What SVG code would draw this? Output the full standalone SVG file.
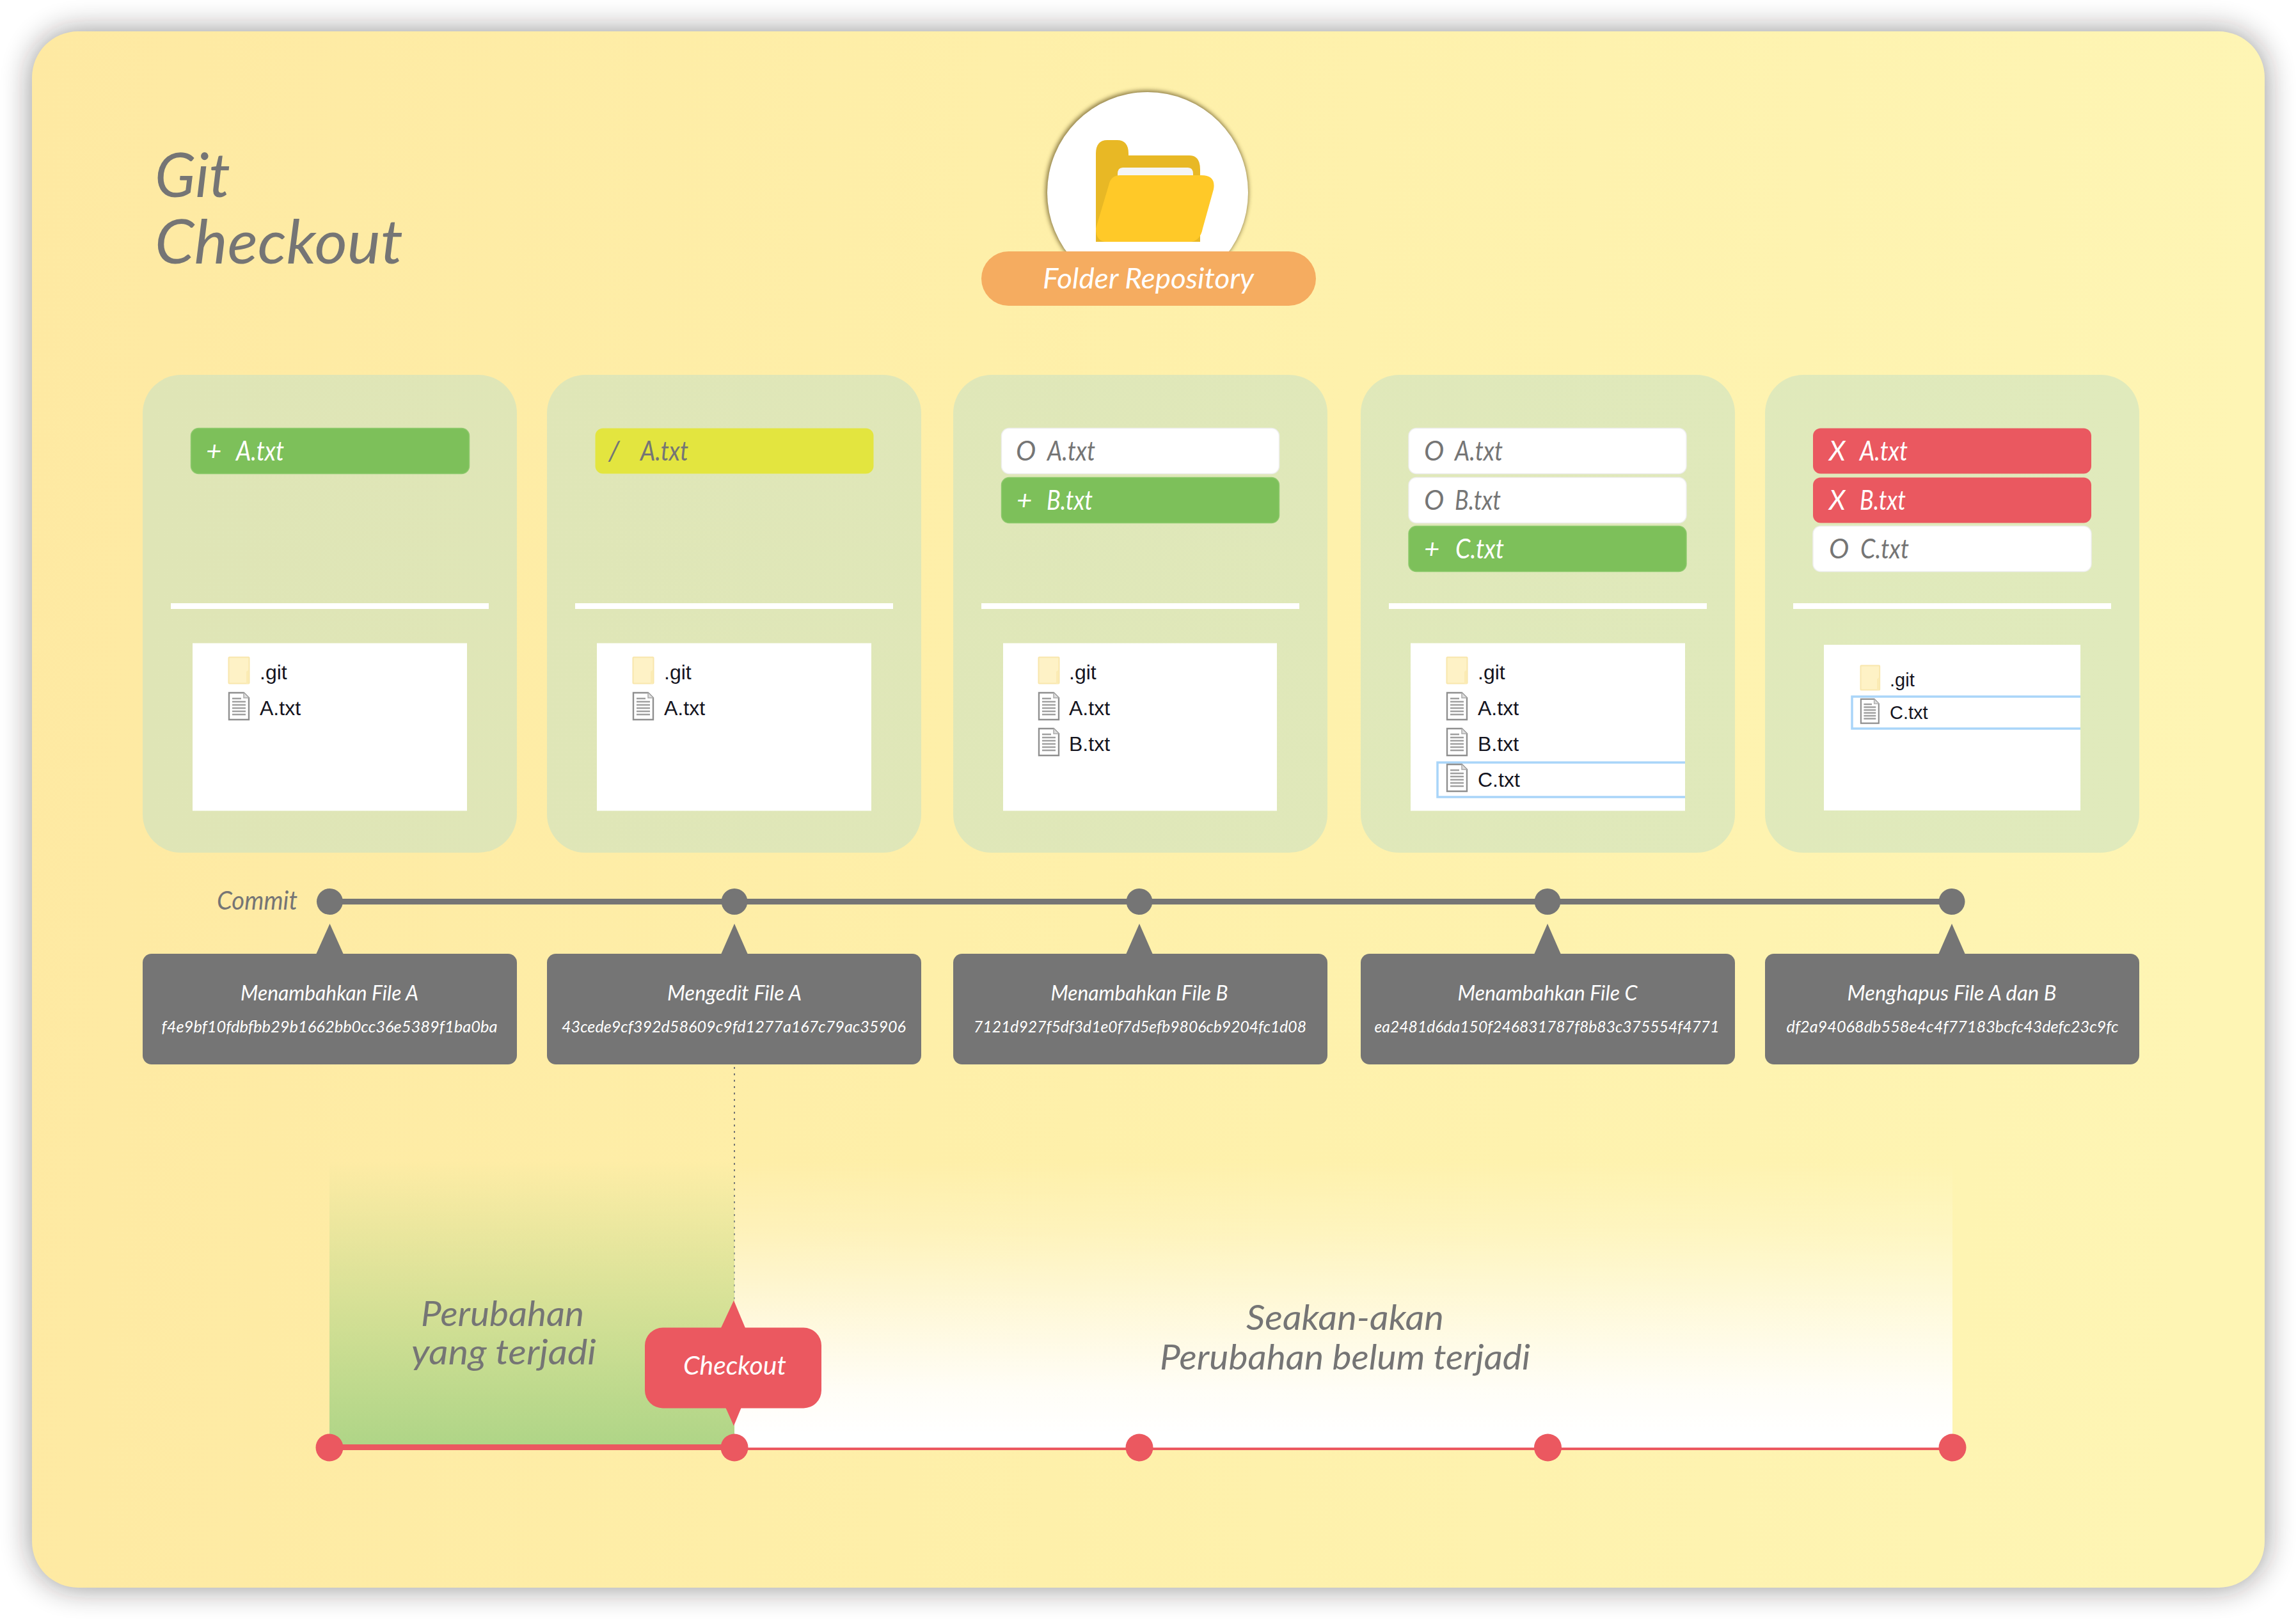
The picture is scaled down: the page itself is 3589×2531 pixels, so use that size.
<svg xmlns="http://www.w3.org/2000/svg" xmlns:xlink="http://www.w3.org/1999/xlink" width="3589" height="2531" viewBox="0 0 3589 2531">
<style>
text{font-family:"Lato","Liberation Sans",sans-serif;font-style:italic}
.g{fill:#757575}
.w{fill:#fff}
.card{fill:url(#cardFill)}
.panel{fill:#fff}
.div{fill:#fff}
.bar{stroke-width:1.5}
.add{fill:#7DC05A;stroke:#8dc96c}
.edit{fill:#E3E53F}
.keep{fill:#fff;stroke:#eee}
.del{fill:#EA5860}
.bt{font-size:42px}
.ft{font-family:"Liberation Sans",sans-serif;font-style:normal;font-size:32px;fill:#14141e}
.ct{font-size:32px;fill:#fff;text-anchor:middle}
.ch{font-size:25px;fill:#fff;text-anchor:middle}
.box{fill:#757575}
.sel{fill:none;stroke:#a9d5f9;stroke-width:3.5}
.dot{fill:#757575}
.rdot{fill:#EB5860}
</style>
<defs>
<linearGradient id="bgFill" x1="0" x2="1" y1="0" y2=".05"><stop offset="0" stop-color="#FEE9A2"/><stop offset=".5" stop-color="#FEF0AA"/><stop offset="1" stop-color="#FEF5B4"/></linearGradient>
<linearGradient id="cardFill" gradientUnits="userSpaceOnUse" x1="223" x2="3344" y1="0" y2="0"><stop offset="0" stop-color="#DFE5B6"/><stop offset="1" stop-color="#E0EABC"/></linearGradient>
<linearGradient id="greenFade" x1="0" x2="0" y1="0" y2="1"><stop offset="0" stop-color="#AFD587" stop-opacity="0"/><stop offset="1" stop-color="#AFD587"/></linearGradient>
<linearGradient id="whiteFade" x1="0" x2="0" y1="0" y2="1"><stop offset="0" stop-color="#fff" stop-opacity="0"/><stop offset=".25" stop-color="#fff" stop-opacity=".22"/><stop offset=".55" stop-color="#fff" stop-opacity=".6"/><stop offset=".8" stop-color="#fff" stop-opacity=".9"/><stop offset=".95" stop-color="#fff"/></linearGradient>
<filter id="pageShadow" x="-5%" y="-5%" width="110%" height="110%"><feGaussianBlur stdDeviation="24"/></filter>
<filter id="circleShadow" x="-10%" y="-10%" width="120%" height="120%"><feGaussianBlur stdDeviation="3"/></filter>
<g id="folderIco"><rect x="0.5" y="0.5" width="32" height="41" rx="1" fill="#FEF2C6" stroke="#F8E6AC" stroke-width="2"/><path d="M28 42V23l4-3v22z" fill="#FBEBB4"/></g>
<g id="docIco"><path d="M1 1H24L32 9V43H1z" fill="#fff" stroke="#8f8f8f" stroke-width="2.4"/><path d="M24 1V9H32" fill="#ddd" stroke="#aaa" stroke-width="1.5"/><path d="M6 10H20M6 15H27M6 20H27M6 25H27M6 30H27M6 35H27" stroke="#a0a0a0" stroke-width="2.6" fill="none"/></g>
</defs>

<g id="page">
<rect x="50" y="49" width="3490" height="2433" rx="72" fill="#1a1414" opacity=".47" filter="url(#pageShadow)"/>
<rect x="50" y="49" width="3490" height="2433" rx="72" fill="url(#bgFill)"/>
</g>

<g id="title"><text class="g" x="242" y="308" font-size="96" textLength="118" lengthAdjust="spacingAndGlyphs">Git</text><text class="g" x="242" y="412" font-size="96" textLength="388" lengthAdjust="spacingAndGlyphs">Checkout</text></g>

<g id="folder-repository">
<circle cx="1793" cy="300" r="159" fill="#6e5d2a" opacity=".75" filter="url(#circleShadow)"/>
<circle cx="1794" cy="301" r="157" fill="#fff"/>
<path d="M1713 378V240Q1713 219 1731 219H1746Q1764 219 1764 240V243H1859Q1876 243 1876 265V378z" fill="#E8B825"/>
<path d="M1747 292V272Q1747 262 1755 262H1857Q1865 262 1865 272V292z" fill="#F5F5F5"/>
<path d="M1751 274H1878Q1901 274 1897 296L1880 357Q1876 378 1859 378H1730Q1713 378 1713 357L1733 290Q1736 274 1751 274z" fill="#FFC928"/>
<rect x="1534" y="393" width="523" height="85" rx="42.5" fill="#F5AC60"/>
<text class="w" x="1630" y="451" font-size="44" textLength="330" lengthAdjust="spacingAndGlyphs">Folder Repository</text>
</g>

<g id="connectors">
<rect x="515" y="1405" width="2536" height="9" class="g"/>
<rect x="515" y="2258" width="633" height="9" class="rdot"/>
<rect x="1148" y="2263" width="1904" height="4" class="rdot"/>
<line x1="1148" y1="1668" x2="1148" y2="2034" stroke="#757575" stroke-width="2" stroke-dasharray="3 7"/>
</g>

<g id="commit-label"><text class="g" x="339" y="1422" font-size="40" textLength="126" lengthAdjust="spacingAndGlyphs">Commit</text></g>

<g id="card-1">
<rect class="card" x="223" y="586" width="585" height="747" rx="60"/>
<rect class="bar add" x="298.5" y="669.5" width="435" height="71" rx="12"/>
<text class="bt w" x="322" y="720">+</text><text class="bt w" x="369" y="720" textLength="75" lengthAdjust="spacingAndGlyphs">A.txt</text>
<rect class="div" x="267" y="943" width="497" height="9"/>
<rect class="panel" x="301" y="1005.5" width="429" height="262"/>
<use xlink:href="#folderIco" href="#folderIco" x="357" y="1027"/><text class="ft" x="406" y="1062">.git</text>
<use xlink:href="#docIco" href="#docIco" x="357" y="1082"/><text class="ft" x="406" y="1118">A.txt</text>
</g>

<g id="card-2">
<rect class="card" x="855" y="586" width="585" height="747" rx="60"/>
<rect class="bar edit" x="930.5" y="669.5" width="435" height="71" rx="12"/>
<text class="bt g" x="951" y="720">/</text><text class="bt g" x="1001" y="720" textLength="75" lengthAdjust="spacingAndGlyphs">A.txt</text>
<rect class="div" x="899" y="943" width="497" height="9"/>
<rect class="panel" x="933" y="1005.5" width="429" height="262"/>
<use xlink:href="#folderIco" href="#folderIco" x="989" y="1027"/><text class="ft" x="1038" y="1062">.git</text>
<use xlink:href="#docIco" href="#docIco" x="989" y="1082"/><text class="ft" x="1038" y="1118">A.txt</text>
</g>

<g id="card-3">
<rect class="card" x="1490" y="586" width="585" height="747" rx="60"/>
<rect class="bar keep" x="1565.5" y="669.5" width="434" height="71" rx="12"/>
<text class="bt g" x="1588" y="720">O</text><text class="bt g" x="1637" y="720" textLength="75" lengthAdjust="spacingAndGlyphs">A.txt</text>
<rect class="bar add" x="1565.5" y="746.5" width="434" height="71" rx="12"/>
<text class="bt w" x="1589" y="797">+</text><text class="bt w" x="1636" y="797" textLength="72" lengthAdjust="spacingAndGlyphs">B.txt</text>
<rect class="div" x="1534" y="943" width="497" height="9"/>
<rect class="panel" x="1568" y="1005.5" width="428" height="262"/>
<use xlink:href="#folderIco" href="#folderIco" x="1623" y="1027"/><text class="ft" x="1671" y="1062">.git</text>
<use xlink:href="#docIco" href="#docIco" x="1623" y="1082"/><text class="ft" x="1671" y="1118">A.txt</text>
<use xlink:href="#docIco" href="#docIco" x="1623" y="1138"/><text class="ft" x="1671" y="1174">B.txt</text>
</g>

<g id="card-4">
<rect class="card" x="2127" y="586" width="585" height="747" rx="60"/>
<rect class="bar keep" x="2202" y="669.5" width="434" height="71" rx="12"/>
<text class="bt g" x="2226" y="720">O</text><text class="bt g" x="2274" y="720" textLength="75" lengthAdjust="spacingAndGlyphs">A.txt</text>
<rect class="bar keep" x="2202" y="746.5" width="434" height="71" rx="12"/>
<text class="bt g" x="2226" y="797">O</text><text class="bt g" x="2274" y="797" textLength="72" lengthAdjust="spacingAndGlyphs">B.txt</text>
<rect class="bar add" x="2202" y="822.5" width="434" height="71" rx="12"/>
<text class="bt w" x="2226" y="873">+</text><text class="bt w" x="2275" y="873" textLength="76" lengthAdjust="spacingAndGlyphs">C.txt</text>
<rect class="div" x="2171" y="943" width="497" height="9"/>
<rect class="panel" x="2205" y="1005.5" width="429" height="262"/>
<use xlink:href="#folderIco" href="#folderIco" x="2261" y="1027"/><text class="ft" x="2310" y="1062">.git</text>
<use xlink:href="#docIco" href="#docIco" x="2261" y="1082"/><text class="ft" x="2310" y="1118">A.txt</text>
<use xlink:href="#docIco" href="#docIco" x="2261" y="1138"/><text class="ft" x="2310" y="1174">B.txt</text>
<path class="sel" d="M2634 1192H2247V1246H2634"/>
<use xlink:href="#docIco" href="#docIco" x="2261" y="1194"/><text class="ft" x="2310" y="1230">C.txt</text>
</g>

<g id="card-5">
<rect class="card" x="2759" y="586" width="585" height="747" rx="60"/>
<rect class="bar del" x="2834" y="669.5" width="435" height="71" rx="12"/>
<text class="bt w" x="2859" y="720">X</text><text class="bt w" x="2907" y="720" textLength="75" lengthAdjust="spacingAndGlyphs">A.txt</text>
<rect class="bar del" x="2834" y="746.5" width="435" height="71" rx="12"/>
<text class="bt w" x="2859" y="797">X</text><text class="bt w" x="2907" y="797" textLength="72" lengthAdjust="spacingAndGlyphs">B.txt</text>
<rect class="bar keep" x="2834" y="822.5" width="435" height="71" rx="12"/>
<text class="bt g" x="2859" y="873">O</text><text class="bt g" x="2908" y="873" textLength="76" lengthAdjust="spacingAndGlyphs">C.txt</text>
<rect class="div" x="2803" y="943" width="497" height="9"/>
<rect class="panel" x="2851" y="1008" width="401" height="259"/>
<use xlink:href="#folderIco" href="#folderIco" transform="translate(2908 1040) scale(.93)"/><text class="ft" x="2954" y="1073" style="font-size:29px">.git</text>
<path class="sel" d="M3252 1089H2895V1139H3252"/>
<use xlink:href="#docIco" href="#docIco" transform="translate(2908 1092) scale(.9)"/><text class="ft" x="2954" y="1124" style="font-size:29px">C.txt</text>
</g>

<g id="commit-dots">
<circle class="dot" cx="515.5" cy="1409.5" r="20.5"/><circle class="dot" cx="1148" cy="1409.5" r="20.5"/><circle class="dot" cx="1781" cy="1409.5" r="20.5"/><circle class="dot" cx="2419" cy="1409.5" r="20.5"/><circle class="dot" cx="3051" cy="1409.5" r="20.5"/>
</g>

<g id="commit-1"><path class="box" d="M494 1492L515.5 1444L537 1492z"/><rect class="box" x="223" y="1491" width="585" height="173" rx="14"/>
<text class="ct" x="515" y="1564" textLength="278" lengthAdjust="spacingAndGlyphs">Menambahkan File A</text><text class="ch" x="515" y="1614" textLength="525" lengthAdjust="spacingAndGlyphs">f4e9bf10fdbfbb29b1662bb0cc36e5389f1ba0ba</text></g>
<g id="commit-2"><path class="box" d="M1127 1492L1148 1444L1169 1492z"/><rect class="box" x="855" y="1491" width="585" height="173" rx="14"/>
<text class="ct" x="1148" y="1564" textLength="210" lengthAdjust="spacingAndGlyphs">Mengedit File A</text><text class="ch" x="1147" y="1614" textLength="538" lengthAdjust="spacingAndGlyphs">43cede9cf392d58609c9fd1277a167c79ac35906</text></g>
<g id="commit-3"><path class="box" d="M1760 1492L1781 1444L1802 1492z"/><rect class="box" x="1490" y="1491" width="585" height="173" rx="14"/>
<text class="ct" x="1781" y="1564" textLength="277" lengthAdjust="spacingAndGlyphs">Menambahkan File B</text><text class="ch" x="1782" y="1614" textLength="520" lengthAdjust="spacingAndGlyphs">7121d927f5df3d1e0f7d5efb9806cb9204fc1d08</text></g>
<g id="commit-4"><path class="box" d="M2398 1492L2419 1444L2440 1492z"/><rect class="box" x="2127" y="1491" width="585" height="173" rx="14"/>
<text class="ct" x="2419" y="1564" textLength="281" lengthAdjust="spacingAndGlyphs">Menambahkan File C</text><text class="ch" x="2418" y="1614" textLength="539" lengthAdjust="spacingAndGlyphs">ea2481d6da150f246831787f8b83c375554f4771</text></g>
<g id="commit-5"><path class="box" d="M3030 1492L3051 1444L3072 1492z"/><rect class="box" x="2759" y="1491" width="585" height="173" rx="14"/>
<text class="ct" x="3051" y="1564" textLength="327" lengthAdjust="spacingAndGlyphs">Menghapus File A dan B</text><text class="ch" x="3052" y="1614" textLength="519" lengthAdjust="spacingAndGlyphs">df2a94068db558e4c4f77183bcfc43defc23c9fc</text></g>

<g id="changed-zone"><rect x="515" y="1815" width="633" height="443" fill="url(#greenFade)"/>
<text class="g" x="658" y="2073" font-size="55" textLength="255" lengthAdjust="spacingAndGlyphs">Perubahan</text><text class="g" x="643" y="2133" font-size="55" textLength="289" lengthAdjust="spacingAndGlyphs">yang terjadi</text></g>
<g id="unchanged-zone"><rect x="1148" y="1815" width="1904" height="448" fill="url(#whiteFade)"/>
<text class="g" x="1948" y="2079" font-size="55" textLength="309" lengthAdjust="spacingAndGlyphs">Seakan-akan</text><text class="g" x="1813" y="2141" font-size="55" textLength="579" lengthAdjust="spacingAndGlyphs">Perubahan belum terjadi</text></g>

<g id="checkout-dots">
<circle class="rdot" cx="515" cy="2263" r="21.5"/><circle class="rdot" cx="1148" cy="2263" r="21.5"/><circle class="rdot" cx="1781" cy="2263" r="21.5"/><circle class="rdot" cx="2419.5" cy="2263" r="21.5"/><circle class="rdot" cx="3052" cy="2263" r="21.5"/>
</g>

<g id="checkout"><path class="rdot" d="M1127 2076L1147 2033L1165 2076zM1134 2200L1147 2229L1159 2200z"/><rect class="rdot" x="1008" y="2075.5" width="276" height="126" rx="28"/>
<text class="w" x="1068" y="2149" font-size="40" textLength="161" lengthAdjust="spacingAndGlyphs">Checkout</text></g>
</svg>
